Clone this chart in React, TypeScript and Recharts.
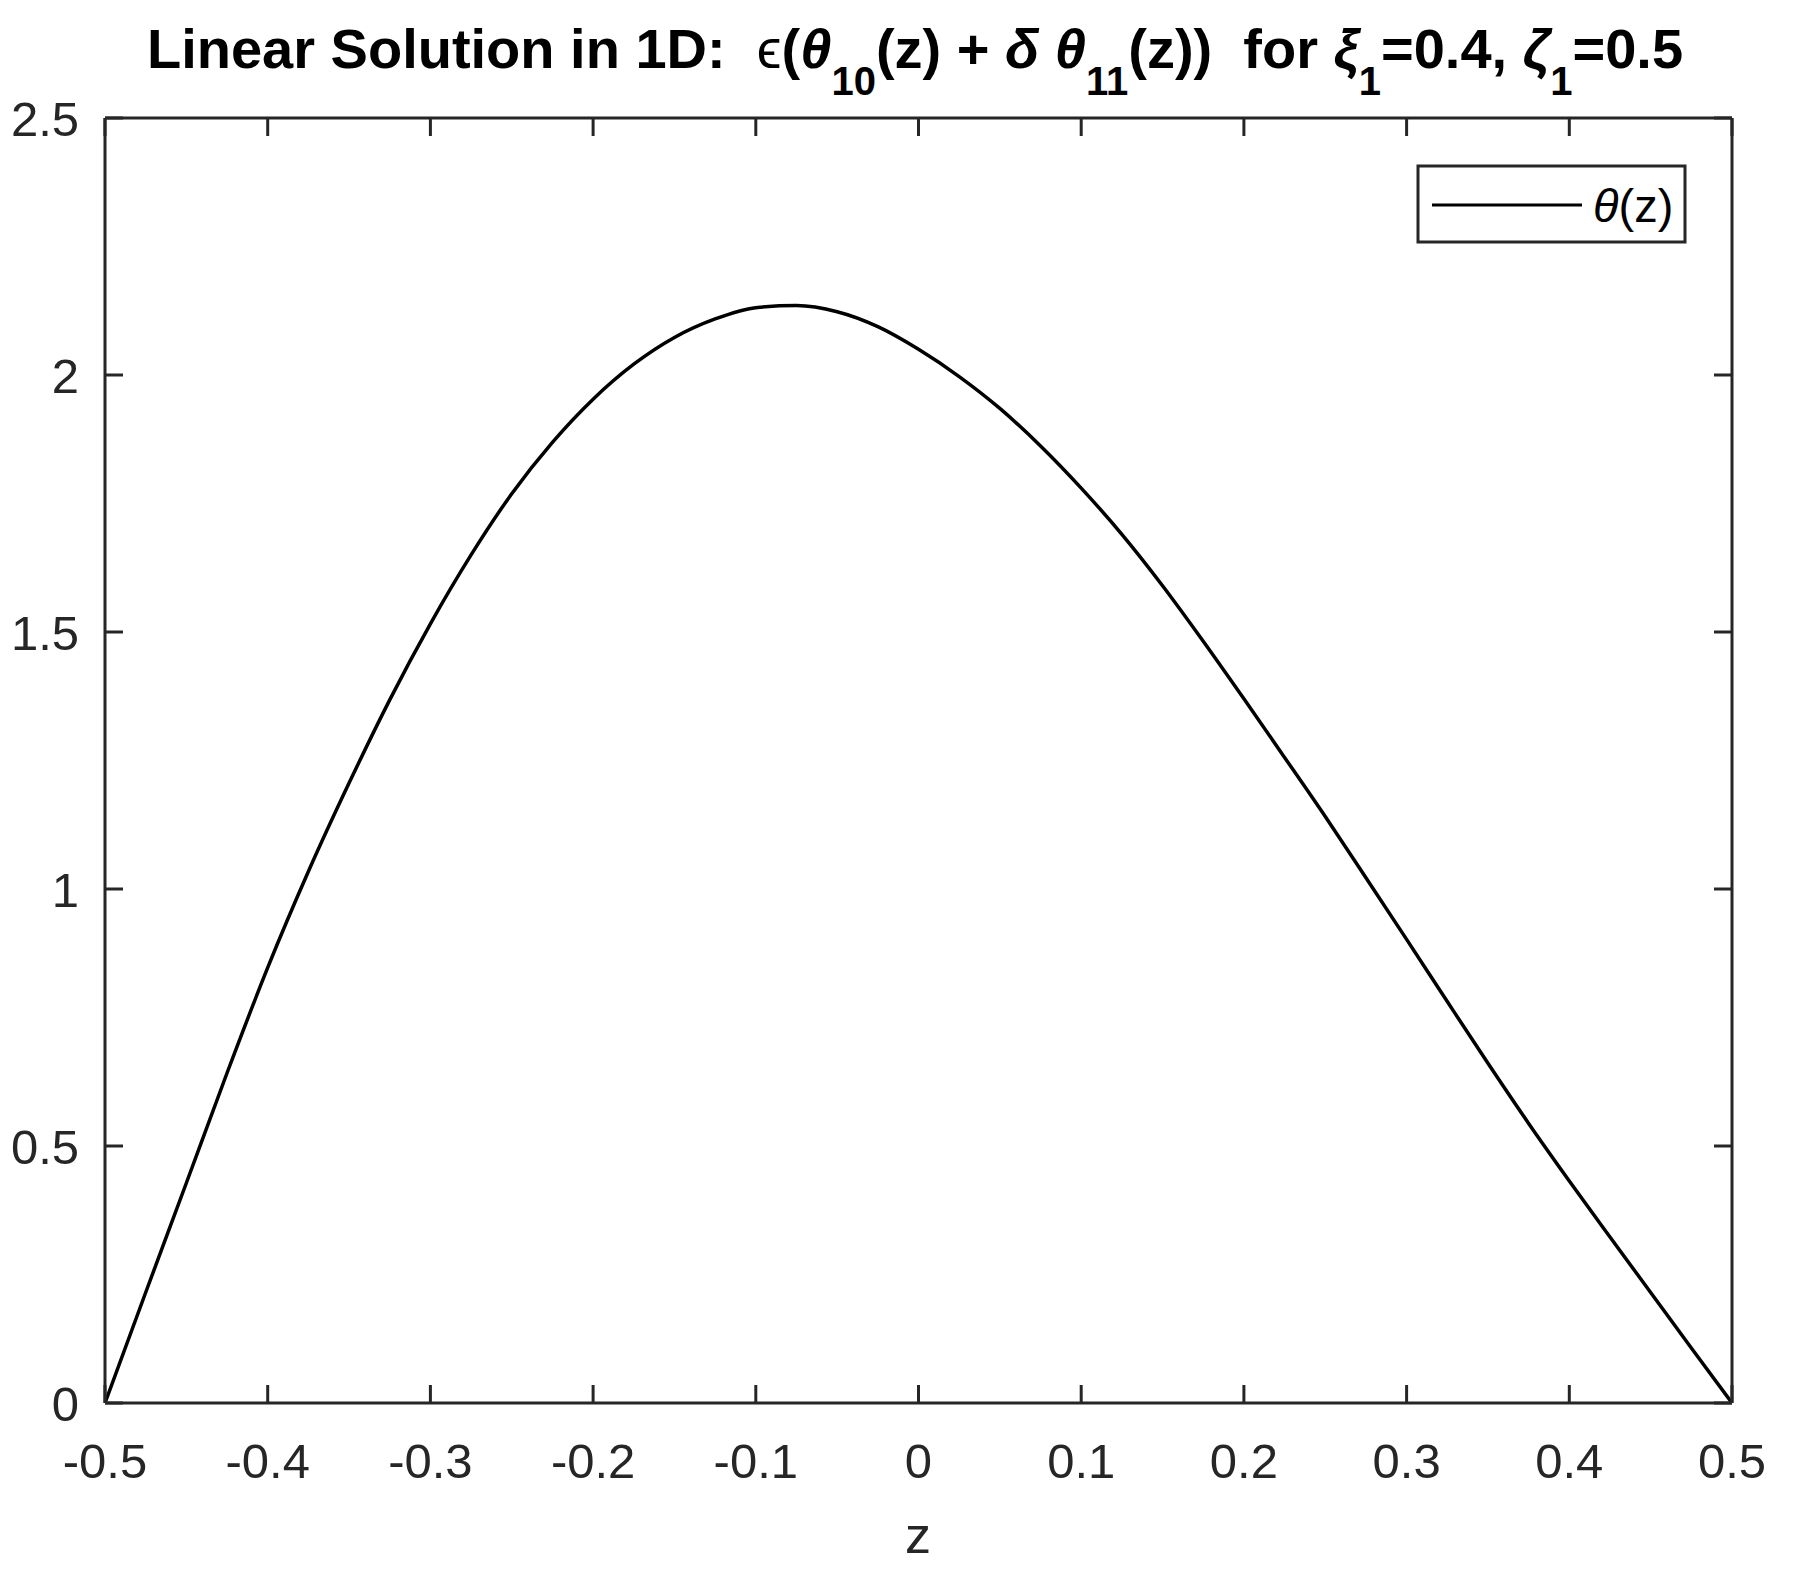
import React from "react";
import { Customized, Line, LineChart, XAxis, YAxis } from "recharts";

const zValues = [
  -0.5, -0.475, -0.45, -0.425, -0.4, -0.375, -0.35, -0.325, -0.3, -0.275, -0.25,
  -0.225, -0.2, -0.175, -0.15, -0.125, -0.1, -0.075, -0.05, -0.025, 0, 0.025, 0.05,
  0.075, 0.1, 0.125, 0.15, 0.175, 0.2, 0.225, 0.25, 0.275, 0.3, 0.325, 0.35, 0.375,
  0.4, 0.425, 0.45, 0.475, 0.5
];

const thetaValues = [
  0, 0.215, 0.428, 0.642, 0.847, 1.034, 1.206, 1.368, 1.516, 1.65, 1.769, 1.869,
  1.953, 2.021, 2.073, 2.109, 2.131, 2.135, 2.123, 2.094, 2.05, 1.997, 1.935, 1.862,
  1.78, 1.69, 1.59, 1.482, 1.37, 1.256, 1.141, 1.022, 0.902, 0.781, 0.661, 0.544,
  0.432, 0.323, 0.215, 0.107, 0
];

const xTicks = [-0.5, -0.4, -0.3, -0.2, -0.1, 0, 0.1, 0.2, 0.3, 0.4, 0.5];
const yTicks = [0, 0.5, 1, 1.5, 2, 2.5];

const data = zValues.map((z, i) => ({ z, theta: thetaValues[i] }));

const FONT = "'Liberation Sans', Arial, Helvetica, sans-serif";
const AXIS = "#262626";
const TICK_LEN = 18;
const AXIS_W = 3;

function XTick({ x, y, payload, side }: any) {
  const dir = side === "top" ? 1 : -1;
  return (
    <g>
      <line x1={x} x2={x} y1={y} y2={y + dir * TICK_LEN} stroke={AXIS} strokeWidth={AXIS_W} />
      {side === "bottom" && (
        <text x={x} y={y + 75} textAnchor="middle" fontSize={49} fontFamily={FONT} fill={AXIS}>
          {String(payload.value)}
        </text>
      )}
    </g>
  );
}

function YTick({ x, y, payload, side }: any) {
  const dir = side === "left" ? 1 : -1;
  return (
    <g>
      <line x1={x} x2={x + dir * TICK_LEN} y1={y} y2={y} stroke={AXIS} strokeWidth={AXIS_W} />
      {side === "left" && (
        <text x={x - 26} y={y + 18} textAnchor="end" fontSize={49} fontFamily={FONT} fill={AXIS}>
          {String(payload.value)}
        </text>
      )}
    </g>
  );
}

function Title() {
  const sub = 27;
  const subSize = 40;
  return (
    <text
      x={915}
      y={68}
      textAnchor="middle"
      fontSize={56}
      fontWeight="bold"
      fontFamily={FONT}
      fill="#000"
      style={{ whiteSpace: "pre" }}
    >
      <tspan>{"Linear Solution in 1D:  "}</tspan>
      <tspan fontWeight="normal">ϵ</tspan>
      <tspan>(</tspan>
      <tspan fontStyle="italic">θ</tspan>
      <tspan dy={sub} fontSize={subSize}>10</tspan>
      <tspan dy={-sub}>{"(z) + "}</tspan>
      <tspan fontStyle="italic">δ</tspan>
      <tspan>{" "}</tspan>
      <tspan fontStyle="italic">θ</tspan>
      <tspan dy={sub} fontSize={subSize}>11</tspan>
      <tspan dy={-sub}>{"(z))  for "}</tspan>
      <tspan fontStyle="italic">ξ</tspan>
      <tspan dy={sub} fontSize={subSize}>1</tspan>
      <tspan dy={-sub}>{"=0.4, "}</tspan>
      <tspan fontStyle="italic">ζ</tspan>
      <tspan dy={sub} fontSize={subSize}>1</tspan>
      <tspan dy={-sub}>=0.5</tspan>
    </text>
  );
}

function LegendBox() {
  return (
    <g>
      <rect x={1418} y={166} width={267} height={76} fill="#fff" stroke={AXIS} strokeWidth={AXIS_W} />
      <line x1={1432} x2={1582} y1={205} y2={205} stroke="#000" strokeWidth={3} />
      <text x={1593} y={222} fontSize={47} fontFamily={FONT} fill="#000">
        <tspan fontStyle="italic">θ</tspan>
        <tspan>(z)</tspan>
      </text>
    </g>
  );
}

function Decorations() {
  return (
    <g>
      <Title />
      <text x={918} y={1553} textAnchor="middle" fontSize={52} fontFamily={FONT} fill={AXIS}>
        z
      </text>
      <LegendBox />
    </g>
  );
}

export default function App() {
  return (
    <div style={{ position: "absolute", left: 0, top: 0, width: 1795, height: 1578, background: "#fff" }}>
      <LineChart
        width={1795}
        height={1578}
        data={data}
        margin={{ top: 117, right: 62, left: 0, bottom: 0 }}
      >
        <XAxis
          xAxisId="bottom"
          dataKey="z"
          type="number"
          domain={[-0.5, 0.5]}
          ticks={xTicks}
          interval={0}
          allowDataOverflow
          height={175}
          tickSize={0}
          tickMargin={0}
          tickLine={false}
          axisLine={{ stroke: AXIS, strokeWidth: AXIS_W }}
          tick={<XTick side="bottom" />}
        />
        <XAxis
          xAxisId="top"
          orientation="top"
          dataKey="z"
          type="number"
          domain={[-0.5, 0.5]}
          ticks={xTicks}
          interval={0}
          allowDataOverflow
          height={1}
          tickSize={0}
          tickMargin={0}
          tickLine={false}
          axisLine={{ stroke: AXIS, strokeWidth: AXIS_W }}
          tick={<XTick side="top" />}
        />
        <YAxis
          yAxisId="left"
          type="number"
          domain={[0, 2.5]}
          ticks={yTicks}
          interval={0}
          allowDataOverflow
          width={105}
          tickSize={0}
          tickMargin={0}
          tickLine={false}
          axisLine={{ stroke: AXIS, strokeWidth: AXIS_W }}
          tick={<YTick side="left" />}
        />
        <YAxis
          yAxisId="right"
          orientation="right"
          type="number"
          domain={[0, 2.5]}
          ticks={yTicks}
          interval={0}
          allowDataOverflow
          width={1}
          tickSize={0}
          tickMargin={0}
          tickLine={false}
          axisLine={{ stroke: AXIS, strokeWidth: AXIS_W }}
          tick={<YTick side="right" />}
        />
        <Line
          xAxisId="bottom"
          yAxisId="left"
          type="monotone"
          dataKey="theta"
          stroke="#000"
          strokeWidth={3.5}
          dot={false}
          activeDot={false}
          isAnimationActive={false}
        />
        <Customized component={<Decorations />} />
      </LineChart>
    </div>
  );
}
